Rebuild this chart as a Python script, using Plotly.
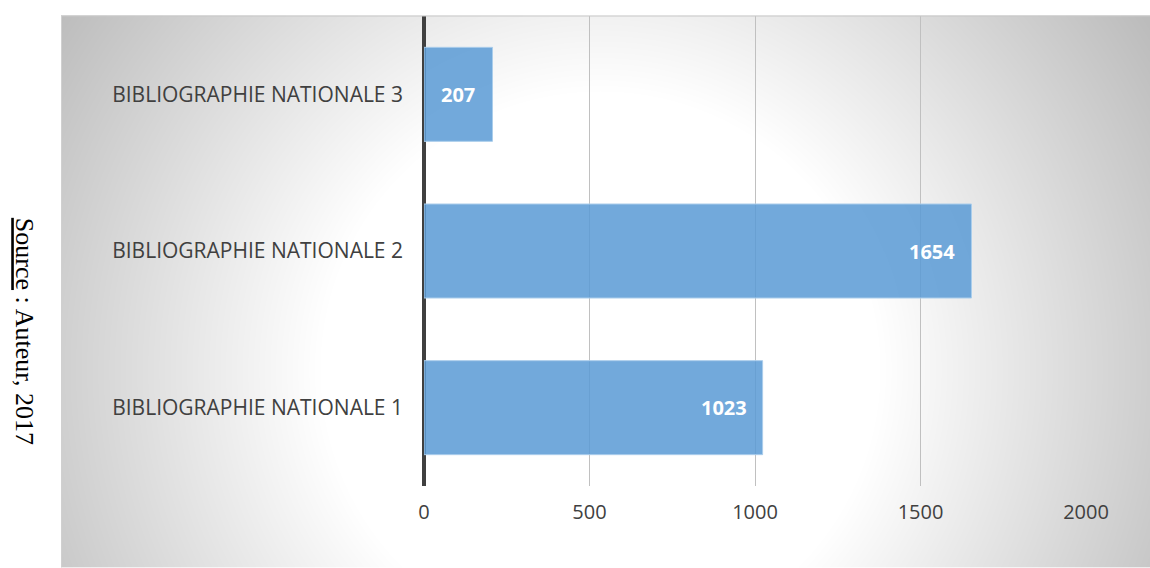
import base64, struct, zlib
import numpy as np
import plotly.graph_objects as go

categories = ["BIBLIOGRAPHIE NATIONALE 1", "BIBLIOGRAPHIE NATIONALE 2", "BIBLIOGRAPHIE NATIONALE 3"]
values = [1023, 1654, 207]
tick_vals = [0, 500, 1000, 1500, 2000]
source_text = "<u>Source</u> : Auteur, 2017"

W, H = 1150, 568
P_L, P_R, P_T, P_B = 424, 1086, 15.5, 486.5
L, R, T, B = P_L, W - P_R, P_T, H - P_B
PW, PH = P_R - P_L, P_B - P_T

# radial gradient background (white centre, grey edges), pixel coords
px0, py0, px1, py1 = 61, 15, 1150, 568
gw, gh = px1 - px0, py1 - py0
yy, xx = np.mgrid[0:gh, 0:gw]
cx, cy = 600 - px0, 370 - py0
d = np.sqrt((xx - cx) ** 2 + (yy - cy) ** 2)
g = 255 - 0.18 * np.clip(d - 280, 0, None)
g = np.clip(g, 188, 255).astype(np.uint8)
raw = b"".join(b"\x00" + g[i].tobytes() for i in range(gh))
def chunk(t, data):
    c = struct.pack(">I", len(data)) + t + data
    return c + struct.pack(">I", zlib.crc32(t + data) & 0xffffffff)
png = b"\x89PNG\r\n\x1a\n" + chunk(b"IHDR", struct.pack(">IIBBBBB", gw, gh, 8, 0, 0, 0, 0)) \
    + chunk(b"IDAT", zlib.compress(raw, 9)) + chunk(b"IEND", b"")
uri = "data:image/png;base64," + base64.b64encode(png).decode()

def pxx(p):
    return (p - P_L) / PW
def pxy(p):
    return (P_B - p) / PH

fig = go.Figure()
fig.add_trace(go.Bar(
    x=values, y=categories, orientation="h", width=0.6,
    marker=dict(color="rgba(91,155,213,0.86)", line=dict(color="rgba(170,205,235,1)", width=1)),
    hoverinfo="skip",
))

for v, c in zip(values, categories):
    if v > 400:
        fig.add_annotation(x=v, y=c, xref="x", yref="y", text=f"<b>{v}</b>", showarrow=False,
                           xanchor="right", xshift=-14,
                           font=dict(family="Open Sans", size=20, color="white"))
    else:
        fig.add_annotation(x=v / 2, y=c, xref="x", yref="y", text=f"<b>{v}</b>", showarrow=False,
                           xanchor="center",
                           font=dict(family="Open Sans", size=20, color="white"))

fig.add_layout_image(dict(source=uri, xref="paper", yref="paper", x=pxx(px0), y=pxy(py0),
                          sizex=pxx(px1) - pxx(px0), sizey=pxy(py0) - pxy(py1),
                          xanchor="left", yanchor="top", sizing="stretch", layer="below"))

fig.add_shape(type="line", xref="paper", yref="paper", x0=pxx(px0), x1=pxx(px1), y0=pxy(15.5), y1=pxy(15.5),
              line=dict(color="#c8c8c8", width=1))
fig.add_shape(type="line", xref="paper", yref="paper", x0=pxx(61.5), x1=pxx(61.5), y0=pxy(15), y1=pxy(568),
              line=dict(color="#d0d0d0", width=1))

fig.add_annotation(text=source_text, xref="paper", yref="paper", x=pxx(24), y=pxy(331),
                   showarrow=False, textangle=90, xanchor="center", yanchor="middle",
                   font=dict(family="Liberation Serif", size=26, color="#000000"))

fig.update_layout(
    width=W, height=H,
    margin=dict(l=L, r=R, t=T, b=B, pad=0),
    paper_bgcolor="white", plot_bgcolor="rgba(0,0,0,0)",
    showlegend=False,
    font=dict(family="Open Sans", color="#404040"),
)
fig.update_xaxes(range=[0, 2000], tickvals=tick_vals, showgrid=True, gridcolor="#c0c0c0", gridwidth=1,
                 zeroline=True, zerolinecolor="#404040", zerolinewidth=4, showline=False,
                 layer="above traces", ticks="", ticklabelstandoff=12,
                 tickfont=dict(family="Open Sans", size=20, color="#404040"))
fig.update_yaxes(showgrid=False, zeroline=False, showline=False, ticks="",
                 ticklabelstandoff=20, categoryorder="array", categoryarray=categories,
                 tickfont=dict(family="Open Sans", size=21, color="#404040"))

fig.write_html("out.html", config={"displayModeBar": False},
               post_script="document.body.style.margin='0px';document.body.style.overflow='hidden';")
